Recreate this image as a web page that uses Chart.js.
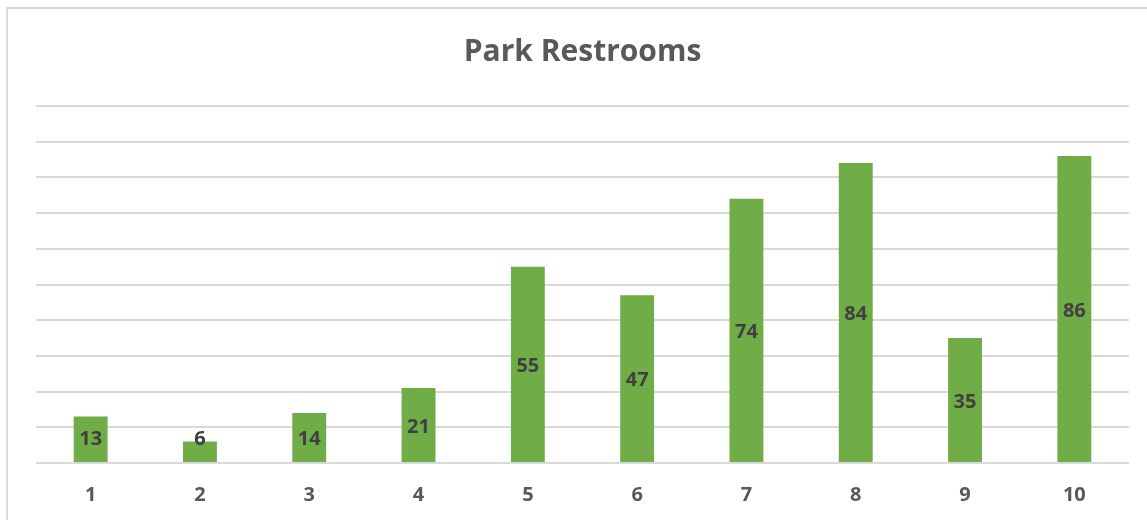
<!DOCTYPE html>
<html>
<head>
<meta charset="utf-8">
<script src="https://cdn.jsdelivr.net/npm/chart.js@4/dist/chart.umd.min.js"></script>
<style>
  html, body { margin: 0; padding: 0; background: #fff; }
  #wrap { width: 1147px; height: 520px; position: relative; }
</style>
</head>
<body>
<div id="wrap"><canvas id="chart"></canvas></div>
<script>
// data
const categories = ['1', '2', '3', '4', '5', '6', '7', '8', '9', '10'];
const restrooms  = [13, 6, 14, 21, 55, 47, 74, 84, 35, 86];

const FONT = '"Open Sans", Lato, sans-serif';

// light frame round the chart, like the spreadsheet chart box
const framePlugin = {
  id: 'frame',
  beforeDraw(chart) {
    const ctx = chart.ctx;
    ctx.save();
    ctx.strokeStyle = '#d9d9d9';
    ctx.lineWidth = 2;
    ctx.strokeRect(7, 8, 1160, 530);
    ctx.restore();
  }
};

// value labels in the middle of each bar
const valueLabels = {
  id: 'valueLabels',
  afterDatasetsDraw(chart) {
    const ctx = chart.ctx;
    const meta = chart.getDatasetMeta(0);
    const base = chart.scales.y.getPixelForValue(0);
    ctx.save();
    ctx.font = 'bold 20px ' + FONT;
    ctx.fillStyle = '#404040';
    ctx.textAlign = 'center';
    ctx.textBaseline = 'middle';
    meta.data.forEach((bar, i) => {
      let y = (bar.y + bar.base) / 2 + 2;
      y = Math.min(y, base - 24);
      ctx.fillText(String(restrooms[i]), bar.x, y);
    });
    ctx.restore();
  }
};

new Chart(document.getElementById('chart').getContext('2d'), {
  type: 'bar',
  data: {
    labels: categories,
    datasets: [{
      data: restrooms,
      backgroundColor: '#70ad47',
      borderWidth: 0,
      barPercentage: 0.31,
      categoryPercentage: 1
    }]
  },
  options: {
    responsive: true,
    maintainAspectRatio: false,
    animation: false,
    layout: { padding: { left: 36, right: 18, top: 0, bottom: 0 } },
    plugins: {
      legend: { display: false },
      tooltip: { enabled: false },
      title: {
        display: true,
        text: 'Park Restrooms',
        color: '#595959',
        font: { family: FONT, size: 30, weight: 'bold' },
        padding: { top: 34, bottom: 36 }
      }
    },
    scales: {
      x: {
        grid: { display: false, drawTicks: false },
        border: { display: false },
        ticks: {
          color: '#595959',
          font: { family: FONT, size: 20, weight: 'bold' },
          padding: 20
        },
        afterFit: s => { s.height = 57; }
      },
      y: {
        min: 0,
        max: 100,
        ticks: { display: false, stepSize: 10 },
        grid: { color: '#d9d9d9', lineWidth: 2, drawTicks: false },
        border: { display: false },
        afterFit: s => { s.width = 0; }
      }
    }
  },
  plugins: [framePlugin, valueLabels]
});
</script>
</body>
</html>
